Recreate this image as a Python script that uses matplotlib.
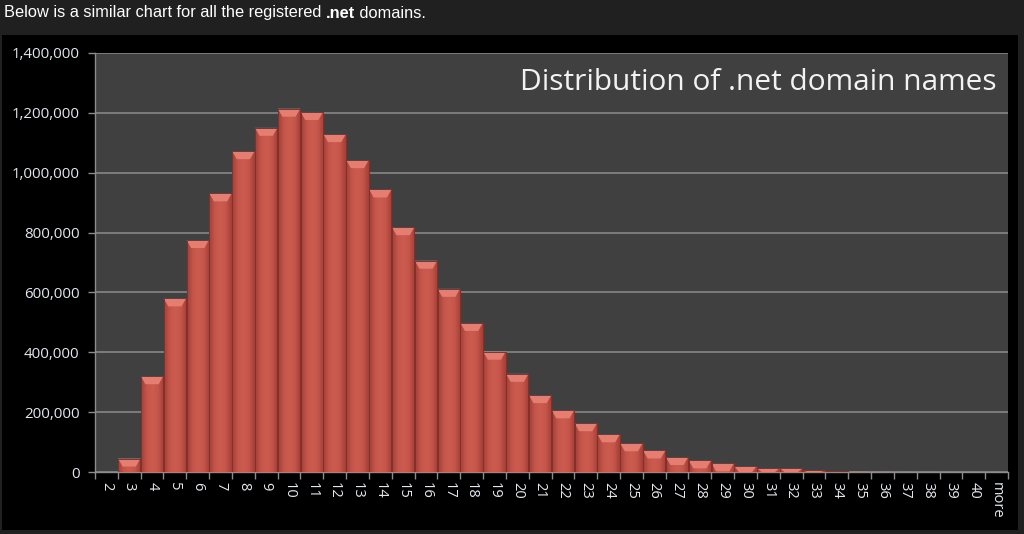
import numpy as np
import matplotlib.pyplot as plt
from matplotlib.patches import Rectangle, Polygon
from matplotlib.colors import LinearSegmentedColormap

categories = [str(n) for n in range(2, 41)] + ["more"]
counts = [0, 45000, 320000, 580000, 775000, 931000, 1072000, 1150000, 1214000, 1203000,
          1129000, 1042000, 944000, 818000, 706000, 612000, 498000, 402000, 328000, 257000,
          206000, 163000, 126000, 96000, 72000, 50000, 39000, 29000, 20000, 13000,
          12000, 6000, 2000, 1000, 500, 300, 200, 100, 100, 100]
yticks = [0, 200000, 400000, 600000, 800000, 1000000, 1200000, 1400000]

W, H = 1024, 534
fig = plt.figure(figsize=(W / 100, H / 100), dpi=100)
fig.patch.set_facecolor("#202020")
fig.patches.append(Rectangle((2 / W, 4 / H), 1016 / W, 495 / H, transform=fig.transFigure,
                             facecolor="black", edgecolor="none", zorder=-5))

# caption above the chart, with a bold ".net"
renderer = fig.canvas.get_renderer()
x = 4 / W
for piece, weight in [("Below is a similar chart for all the registered ", "normal"),
                      (".net", "bold"), (" domains.", "normal")]:
    t = fig.text(x, 1 - 13 / H, piece, color="white", fontsize=11.8, weight=weight,
                 family="Liberation Sans", va="center", ha="left")
    x = t.get_window_extent(renderer).x1 / W

ax = fig.add_axes([95 / W, 62 / H, 913 / W, 419 / H])
ax.set_facecolor("#404040")

xs = np.arange(len(categories))

ax.yaxis.grid(True, color="#8c8c8c", linewidth=1.1)
ax.set_axisbelow(True)

cmap = LinearSegmentedColormap.from_list("bar", ["#a23f36", "#c4554a", "#cd5c50", "#c4554a", "#a23f36"])
grad = np.linspace(0, 1, 64).reshape(1, -1)
bw = 0.98
px_per_unit = 419 / 1400000
bevel = 8 / px_per_unit
for xi, v in zip(xs, counts):
    if v <= 0:
        continue
    rect = Rectangle((xi - bw / 2, 0), bw, v, facecolor="#c0504d", edgecolor="none", zorder=3)
    ax.add_patch(rect)
    im = ax.imshow(grad, cmap=cmap, aspect="auto", extent=(xi - bw / 2, xi + bw / 2, 0, v),
                   zorder=3.5, interpolation="bilinear")
    im.set_clip_path(rect)
    h = min(bevel, v)
    d = 0.2
    ax.add_patch(Polygon([(xi - bw / 2, v), (xi + bw / 2, v), (xi + bw / 2 - d, v - h),
                          (xi - bw / 2 + d, v - h)], closed=True, facecolor="#e57d70",
                         edgecolor="none", zorder=4))
    ax.add_patch(Rectangle((xi - bw / 2, 0), bw, v, facecolor="none", edgecolor="#84302a",
                           linewidth=0.7, zorder=5))

ax.set_xlim(-0.5, len(categories) - 0.5)
ax.set_ylim(0, 1400000)

ax.set_xticks(xs)
ax.set_xticklabels(categories, rotation=-90)
ax.set_xticks(np.arange(-0.5, len(categories)), minor=True)
ax.tick_params(axis="x", which="major", length=0, pad=7, labelcolor="#e4e8ee", labelsize=10.5)
ax.tick_params(axis="x", which="minor", length=5, color="#8c8c8c", width=1)
for lab in ax.get_xticklabels():
    lab.set_family("Open Sans")
    lab.set_va("top")

ax.set_yticks(yticks)
ax.set_yticklabels([f"{v:,}" for v in yticks])
ax.tick_params(axis="y", length=5, color="#8c8c8c", width=1, pad=6,
               labelcolor="#e4e8ee", labelsize=10.8)
for lab in ax.get_yticklabels():
    lab.set_family("Open Sans")

for s in ["top", "right"]:
    ax.spines[s].set_visible(False)
for s in ["left", "bottom"]:
    ax.spines[s].set_color("#8c8c8c")
    ax.spines[s].set_linewidth(1)

ax.text(0.988, 0.965, "Distribution of .net domain names", transform=ax.transAxes,
        ha="right", va="top", color="#f2f2f2", fontsize=21.5, family="Open Sans", zorder=6)

fig.savefig("out.png", dpi=100, facecolor=fig.get_facecolor())
